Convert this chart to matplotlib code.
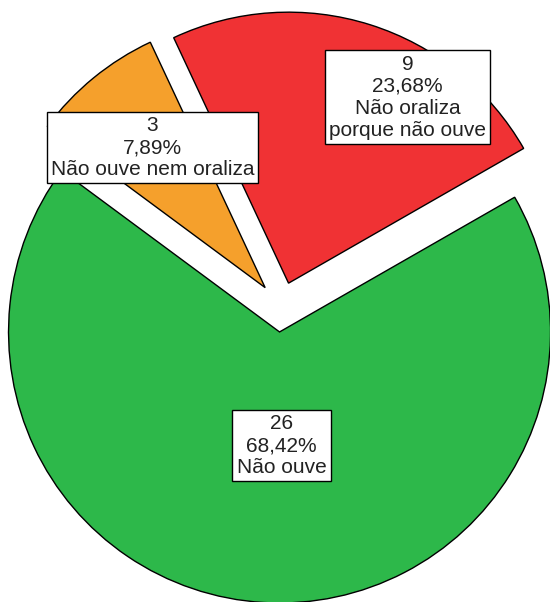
import matplotlib
matplotlib.use("Agg")
import matplotlib.pyplot as plt

# Category data
categories = ["Não ouve", "Não oraliza\nporque não ouve", "Não ouve nem oraliza"]
counts = [26, 9, 3]
colors = ["#2db84a", "#f03234", "#f5a02c"]

total = sum(counts)
percents = [c / total * 100 for c in counts]

W, H = 550, 602
fig = plt.figure(figsize=(W / 100, H / 100), dpi=100)
ax = fig.add_axes([0, 0, 1, 1])

cx, cy = 281, H - 307
R = 271
wedges, _ = ax.pie(
    counts,
    colors=colors,
    startangle=143.5,
    counterclock=True,
    center=(cx, cy),
    radius=R,
    explode=[25] * len(counts),
    wedgeprops=dict(edgecolor="black", linewidth=1.0),
    frame=True,
)
ax.set_xlim(0, W)
ax.set_ylim(0, H)
ax.set_aspect("auto")
ax.axis("off")

# Label boxes inside each slice
label_pos = [(281.5, H - 445.5), (407.5, H - 97), (152.5, H - 147.5)]
for (x, y), n, p, cat in zip(label_pos, counts, percents, categories):
    txt = f"{n}\n{p:.2f}%\n{cat}".replace(".", ",")
    ax.text(
        x, y, txt,
        ha="center", va="center", ma="center",
        fontsize=15, family=["Liberation Sans", "DejaVu Sans"],
        color="#222222", linespacing=1.2,
        bbox=dict(boxstyle="square,pad=0.2", fc="white", ec="black", lw=1.0),
    )

fig.savefig("out.png", dpi=100)
